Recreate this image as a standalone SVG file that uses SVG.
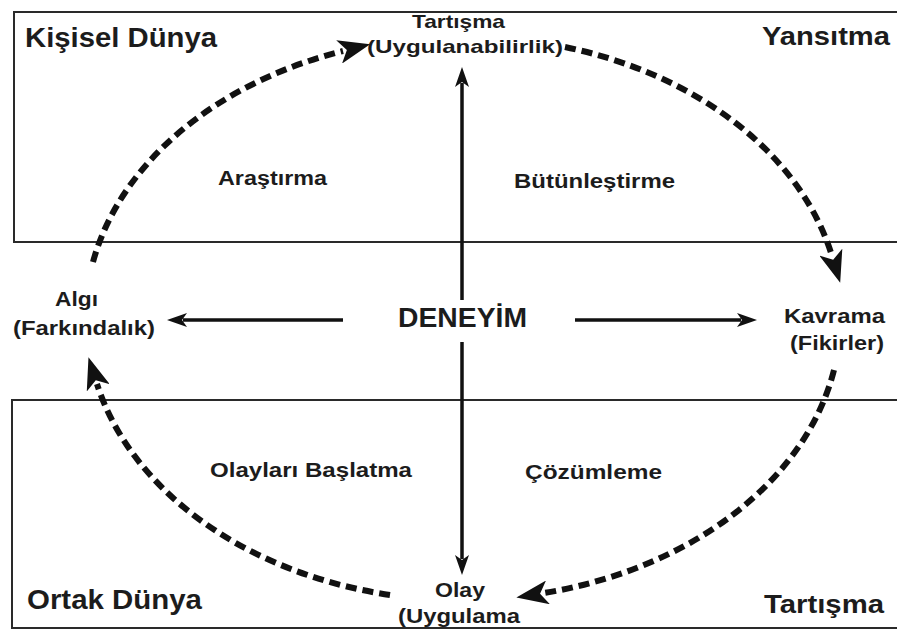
<svg xmlns="http://www.w3.org/2000/svg" width="897" height="630" viewBox="0 0 897 630">
<style>
text{font-family:"Liberation Sans",Arial,sans-serif;font-weight:bold;fill:#1c1c1c}
.frame{fill:none;stroke:#2a2a2a;stroke-width:2}
.solid{fill:none;stroke:#111;stroke-width:3.5}
.dash{fill:none;stroke:#111;stroke-width:6;stroke-dasharray:11 6}
</style>
<defs>
<marker id="ah" markerUnits="userSpaceOnUse" markerWidth="20" markerHeight="14" refX="4" refY="7" orient="auto" viewBox="0 0 20 14">
<path d="M0,0 L20,7 L0,14 L5,7 Z" fill="#111"/>
</marker>
<marker id="dh" markerUnits="userSpaceOnUse" markerWidth="32" markerHeight="24" refX="4" refY="12" orient="auto" viewBox="0 0 32 24">
<path d="M0,0 L32,12 L0,24 L8,12 Z" fill="#111"/>
</marker>
</defs>
<rect width="897" height="630" fill="#fff"/>
<g id="frames">
<path class="frame" d="M897,12 H14 V242 H897"/>
<path class="frame" d="M897,400 H12 V628 H897"/>
</g>
<g id="corner-labels">
<text x="25" y="47" font-size="28" textLength="192" lengthAdjust="spacingAndGlyphs">Kişisel Dünya</text>
<text x="762" y="45" font-size="26" textLength="128" lengthAdjust="spacingAndGlyphs">Yansıtma</text>
<text x="27" y="609" font-size="27" textLength="175" lengthAdjust="spacingAndGlyphs">Ortak Dünya</text>
<text x="764" y="613" font-size="26" textLength="120" lengthAdjust="spacingAndGlyphs">Tartışma</text>
</g>
<g id="region-labels">
<text x="218" y="185" font-size="20" textLength="109" lengthAdjust="spacingAndGlyphs">Araştırma</text>
<text x="514" y="188" font-size="21" textLength="161" lengthAdjust="spacingAndGlyphs">Bütünleştirme</text>
<text x="210" y="477" font-size="21" textLength="202" lengthAdjust="spacingAndGlyphs">Olayları Başlatma</text>
<text x="525" y="479" font-size="21" textLength="137" lengthAdjust="spacingAndGlyphs">Çözümleme</text>
</g>
<g id="connectors">
<line class="solid" x1="462" y1="300" x2="462" y2="83" marker-end="url(#ah)"/>
<line class="solid" x1="462" y1="342" x2="462" y2="559" marker-end="url(#ah)"/>
<line class="solid" x1="343" y1="320" x2="183" y2="320" marker-end="url(#ah)"/>
<line class="solid" x1="575" y1="320" x2="741" y2="320" marker-end="url(#ah)"/>
<path class="dash" d="M93,262 A378,282 0 0 1 343,51" marker-end="url(#dh)"/>
<path class="dash" d="M565,47 A378,282 0 0 1 832,256" marker-end="url(#dh)"/>
<path class="dash" d="M834,370 A378,282 0 0 1 544,593" marker-end="url(#dh)"/>
<path class="dash" d="M390,595 A378,282 0 0 1 97,384" marker-end="url(#dh)"/>
</g>
<g id="node-tartisma">
<text x="412" y="28" font-size="19" textLength="93" lengthAdjust="spacingAndGlyphs">Tartışma</text>
<text x="367" y="53" font-size="19" textLength="196" lengthAdjust="spacingAndGlyphs">(Uygulanabilirlik)</text>
</g>
<g id="node-deneyim">
<text x="398" y="327" font-size="28" textLength="129" lengthAdjust="spacingAndGlyphs">DENEYİM</text>
</g>
<g id="node-algi">
<text x="55" y="306" font-size="21" textLength="43" lengthAdjust="spacingAndGlyphs">Algı</text>
<text x="13" y="335" font-size="21" textLength="142" lengthAdjust="spacingAndGlyphs">(Farkındalık)</text>
</g>
<g id="node-kavrama">
<text x="784" y="323" font-size="20" textLength="101" lengthAdjust="spacingAndGlyphs">Kavrama</text>
<text x="790" y="350" font-size="20" textLength="94" lengthAdjust="spacingAndGlyphs">(Fikirler)</text>
</g>
<g id="node-olay">
<text x="435" y="597" font-size="21" textLength="50" lengthAdjust="spacingAndGlyphs">Olay</text>
<text x="398" y="623" font-size="21" textLength="122" lengthAdjust="spacingAndGlyphs">(Uygulama</text>
</g>
</svg>
